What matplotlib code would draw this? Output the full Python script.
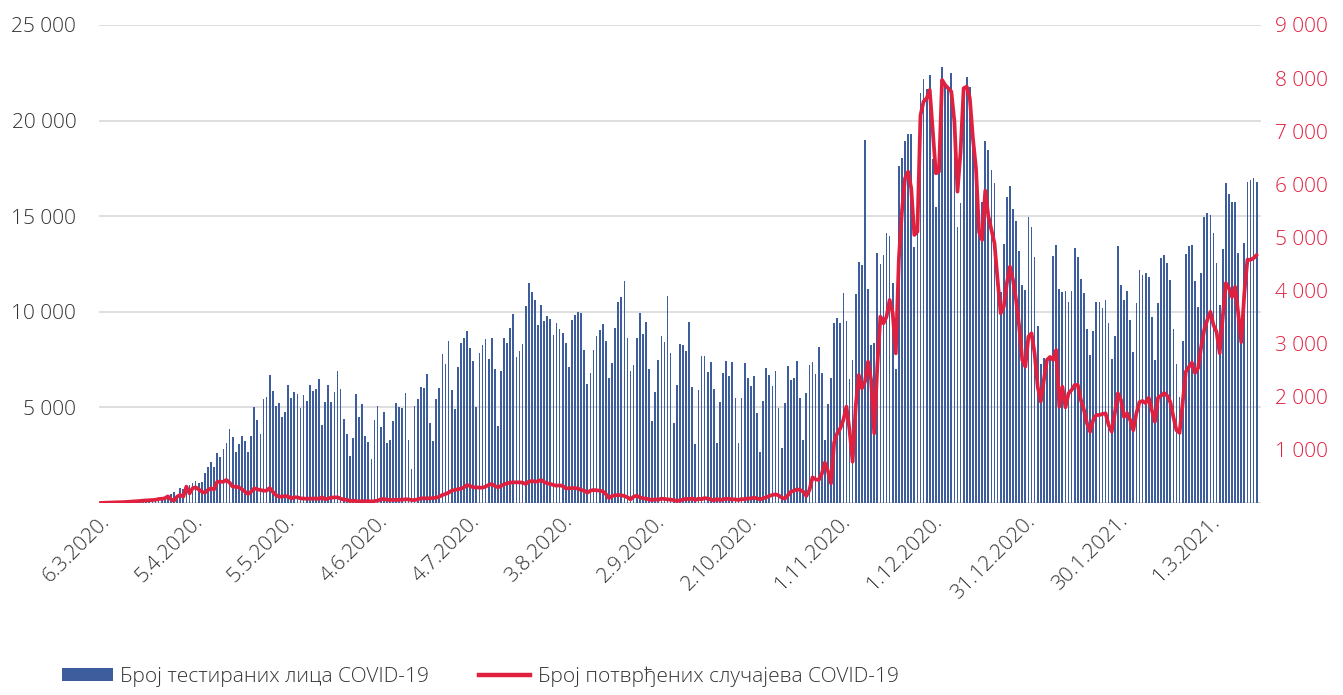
import matplotlib

matplotlib.use("Agg")
import matplotlib.pyplot as plt
from matplotlib.patches import Patch
from matplotlib.lines import Line2D

# Daily data, day 0 = 6.3.2020, last day = 16.3.2021
TESTS = [
    # 6.3. - 28.3.2020
    20, 25, 30, 35, 40, 45, 50, 60, 70, 75, 80, 90, 95, 100, 105, 110, 100, 115, 120, 122, 157, 192, 250,
    # d23 - d90
    471, 593, 331, 802, 715, 593, 941, 1028, 1168, 1063,
    1098, 1551, 1865, 2126, 1865, 2632, 2388, 2841, 3155, 3869,
    3434, 2649, 3068, 3503, 3259, 2649, 3521, 5002, 4323, 3590,
    5421, 5543, 6676, 5874, 5055, 5246, 4514, 4758, 6170, 5473,
    5787, 5700, 4985, 5665, 5351, 6153, 5839, 5978, 6501, 4061,
    5264, 6153, 5300, 5800, 6885, 5961, 4375, 3590, 2458, 3399,
    5700, 4514, 5177, 3521, 3190, 2301, 4323, 5072,
    # d91 - d181
    3991, 4776, 3120, 3294, 4288, 5212, 5002, 4950, 5769, 3294,
    1778, 5072, 5438, 6083, 6031, 6728, 4166, 3242, 5438, 6031,
    7774, 7268, 8471, 5909, 4898, 7129, 8384, 8610, 8994, 8088,
    7425, 5002, 7826, 8262, 8558, 7512, 8610, 7007, 4044, 6920,
    8645, 8384, 9168, 9883, 7652, 7948, 8332, 10301, 11486, 11051,
    10615, 9308, 10353, 9534, 9796, 9622, 8785, 9430, 9098, 8872,
    8384, 7129, 9569, 9831, 10005, 9918, 8000, 6223, 6780, 8000,
    8750, 9046, 9360, 8488, 6519, 7303, 9168, 10528, 10754, 11608,
    8645, 6902, 7216, 8610, 9918, 8837, 9482, 7007, 4305, 5787, 7477,
    # d182 - d237
    8750, 8401, 10824, 7826, 4166, 6170, 8314, 8262, 7966, 9482,
    6048, 3085, 5909, 7687, 7687, 6867, 7390, 5961, 3155, 5264,
    6815, 7443, 6641, 7390, 5508, 3120, 5508, 7303, 6554, 6118,
    6641, 4724, 2649, 5334, 7042, 6693, 6118, 6920, 4985, 2893,
    5246, 7164, 6432, 6519, 7443, 5473, 3294, 5734, 7216, 7390,
    6745, 8175, 6815, 3300, 5200, 6519,
    # d238 - d258
    9400, 9691, 9430, 10963, 9500, 6501, 7477, 10928, 12602, 12445,
    18980, 11173, 8279, 8349, 13055, 12480, 12950, 14100, 13980, 11486,
    7000,
    # d259 - d288
    17620, 18020, 18950, 19280, 19280, 13400, 14500, 21460, 22200, 21630,
    22380, 18000, 15500, 17500, 22820, 21900, 21800, 22470, 20000, 14450,
    15670, 21500, 22290, 21770, 19500, 17000, 14120, 15760, 18950, 18460,
    # d289 - d330
    17420, 16720, 12530, 11050, 13570, 15990, 16600, 15360, 14770, 13180,
    11400, 11140, 14970, 14420, 12880, 9260, 7250, 7570, 7570, 7600,
    12920, 13490, 11180, 11050, 11100, 10530, 11100, 13320, 12850, 11700,
    10970, 9080, 7740, 9010, 10500, 10500, 10210, 10620, 9400, 7530,
    8750, 13460,
    # d331 - d375
    11400, 10600, 11100, 9570, 7900, 10460, 12190, 11920, 12030, 11820,
    9730, 7480, 10460, 12810, 12970, 12550, 11660, 9100, 7270, 5540,
    8470, 13020, 13440, 13490, 11610, 10250, 12030, 14960, 15170, 15060,
    14120, 12550, 10360, 13280, 16740, 16160, 15740, 15740, 13080, 8420,
    13600, 16790, 16890, 17000, 16790,
]

CASES = [
    1, 3, 5, 8, 10, 12, 13, 15, 18, 22, 25, 30, 35, 38, 45, 48, 50, 56, 60, 75, 80, 88, 125,
    70, 45, 120, 150, 120, 308, 180, 276, 295, 257,
    213, 195, 245, 276, 257, 400, 400, 400, 433, 383,
    308, 308, 295, 257, 213, 170, 213, 276, 257, 245,
    232, 232, 282, 213, 150, 120, 120, 132, 120, 88,
    107, 107, 88, 82, 82, 82, 82, 88, 75, 107,
    69, 88, 100, 105, 107, 82, 63, 63, 38, 44,
    38, 25, 38, 31, 38, 25, 38, 44,
    69, 75, 63, 56, 63, 56, 63, 63, 69, 69,
    56, 56, 69, 88, 88, 88, 88, 94, 100, 119,
    151, 169, 195, 232, 245, 257, 270, 295, 339, 320,
    295, 295, 289, 289, 308, 339, 358, 320, 295, 320,
    352, 370, 383, 389, 389, 389, 383, 358, 402, 414,
    402, 408, 433, 395, 370, 358, 339, 326, 333, 320,
    276, 276, 282, 282, 270, 245, 232, 195, 232, 245,
    238, 232, 220, 169, 94, 132, 144, 151, 144, 132,
    107, 69, 119, 138, 107, 88, 82, 69, 56, 69, 63,
    82, 75, 69, 63, 56, 38, 50, 63, 82, 69,
    88, 56, 82, 69, 94, 82, 69, 50, 75, 56,
    69, 82, 75, 69, 69, 56, 75, 69, 88, 82,
    100, 88, 69, 88, 107, 132, 151, 163, 144, 100,
    82, 144, 213, 232, 257, 245, 213, 132, 245, 483,
    446, 433, 546, 760, 600, 370,
    1136, 1312, 1406, 1563, 1814, 1375, 778, 1814, 2410, 2159,
    2285, 2661, 2316, 1312, 2567, 3509, 3383, 3509, 3823, 3572,
    2818,
    4600, 5500, 6114, 6239, 5925, 5047, 5110, 7300, 7558, 7620,
    7777, 6993, 6208, 6239, 7966, 7871, 7809, 7746, 7181, 5863,
    6616, 7809, 7840, 7620, 6867, 6300, 5100, 4953, 5880, 5400,
    5141, 4890, 4200, 3572, 3697, 4137, 4450, 4200, 3823, 3321,
    2693, 2567, 3132, 3195, 2818, 2191, 1908, 2316, 2693, 2750,
    2693, 2881, 1814, 2191, 1801, 2065, 2128, 2222, 2222, 1940,
    1751, 1500, 1343, 1563, 1657, 1657, 1676, 1688, 1469, 1343,
    1688, 2065,
    1940, 1620, 1690, 1560, 1370, 1690, 1900, 1920, 1880, 1980,
    1750, 1530, 1980, 2020, 2070, 2020, 1900, 1620, 1370, 1320,
    1880, 2470, 2560, 2640, 2450, 2540, 2940, 3260, 3450, 3600,
    3350, 3220, 2820, 3500, 4140, 4050, 3880, 4070, 3580, 3030,
    3950, 4580, 4580, 4610, 4670,
]

TICK_DAYS = [0, 30, 60, 90, 120, 150, 180, 210, 240, 270, 300, 330, 360]
TICK_LABELS = ["6.3.2020.", "5.4.2020.", "5.5.2020.", "4.6.2020.", "4.7.2020.", "3.8.2020.",
               "2.9.2020.", "2.10.2020.", "1.11.2020.", "1.12.2020.", "31.12.2020.",
               "30.1.2021.", "1.3.2021."]
LEFT_TICKS = [5000, 10000, 15000, 20000, 25000]
RIGHT_TICKS = [1000, 2000, 3000, 4000, 5000, 6000, 7000, 8000, 9000]

LABEL_TESTS = "Број тестираних лица COVID-19"
LABEL_CASES = "Број потврђених случајева COVID-19"

BAR_COLOR = "#3d5d9c"
LINE_COLOR = "#e0203f"
TEXT_COLOR = "#333333"
GRID_COLOR = "#d9d9d9"

assert len(TESTS) == len(CASES) == 376, (len(TESTS), len(CASES))

plt.rcParams["font.family"] = ["Open Sans", "DejaVu Sans"]
plt.rcParams["font.size"] = 15


def thousands(v):
    return f"{int(v):,}".replace(",", " ")


W, H = 1343, 695
fig = plt.figure(figsize=(W / 100, H / 100), dpi=100)
ax = fig.add_axes([98.5 / W, 1 - 503 / H, (1261 - 98.5) / W, (503 - 25) / H])
ax2 = ax.twinx()

days = list(range(len(TESTS)))
ax.bar(days, TESTS, width=0.56, color=BAR_COLOR, linewidth=0, zorder=2)
ax2.plot(days, CASES, color=LINE_COLOR, linewidth=2.7, solid_joinstyle="round",
         solid_capstyle="round", zorder=3)

ax.set_xlim(-0.49, 376.4)
ax.set_ylim(0, 25000)
ax2.set_ylim(0, 9000)

ax.set_axisbelow(True)
ax.yaxis.grid(True, color=GRID_COLOR, linewidth=1.2)
ax.set_yticks(LEFT_TICKS)
ax.set_yticklabels([thousands(v) for v in LEFT_TICKS], color=TEXT_COLOR, fontweight="light")
ax.tick_params(axis="y", length=0, pad=16)

ax2.set_yticks(RIGHT_TICKS)
ax2.set_yticklabels([thousands(v) for v in RIGHT_TICKS], color=LINE_COLOR, fontweight="light")
ax2.tick_params(axis="y", length=0, pad=10)

ax.set_xticks(TICK_DAYS)
ax.set_xticklabels(TICK_LABELS, rotation=45, ha="right", va="top", rotation_mode="anchor",
                   color=TEXT_COLOR, fontweight="light")
ax.tick_params(axis="x", length=0, pad=6)

for a in (ax, ax2):
    for side in ("top", "left", "right", "bottom"):
        a.spines[side].set_visible(False)
ax.axhline(0, color=GRID_COLOR, linewidth=1.5, zorder=1)

handles = [Patch(facecolor=BAR_COLOR, edgecolor="none"),
           Line2D([], [], color=LINE_COLOR, linewidth=3.2)]
fig.legend(handles, [LABEL_TESTS, LABEL_CASES], loc="lower left",
           bbox_to_anchor=(62 / W, 0.012), ncol=2, frameon=False, borderpad=0,
           borderaxespad=0, handlelength=2.45, handleheight=0.6, handletextpad=0.35,
           columnspacing=2.4, prop={"weight": "light", "size": 15}, labelcolor=TEXT_COLOR)

fig.savefig("out.png", dpi=100)
